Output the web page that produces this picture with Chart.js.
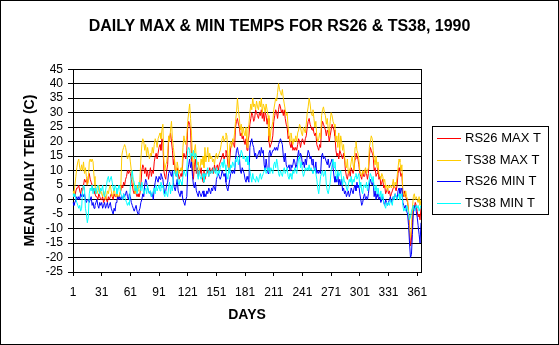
<!DOCTYPE html>
<html>
<head>
<meta charset="utf-8">
<script src="https://cdn.jsdelivr.net/npm/chart.js@4.4.0/dist/chart.umd.min.js"></script>
<style>
  html, body { margin: 0; padding: 0; background: #fff; }
  canvas { display: block; }
</style>
</head>
<body>
<canvas id="chartTemps" width="559" height="345"></canvas>
<script>
const chartTemps = document.getElementById("chartTemps");
const chartTemps2D = chartTemps.getContext("2d");

const TITLE = "DAILY MAX & MIN TEMPS FOR RS26 & TS38, 1990";
const seriesNames = ["RS26 MAX T", "TS38 MAX T", "RS26 MIN T", "TS38 MIN T"];

// days of the year (category axis), and which of them get a label
const days = Array.from({ length: 365 }, (_, i) => i + 1);
const dayTicks = [1, 31, 61, 91, 121, 151, 181, 211, 241, 271, 301, 331, 361];
const tempTicks = [-25, -20, -15, -10, -5, 0, 5, 10, 15, 20, 25, 30, 35, 40, 45];

// values, one row = 30 days
const rs26Max = [
  1, 2, 1, 3, 4, 4, 5, 3, 2, 4, 3, 5, 7, 6, 7, 5, 8, 9, 7, 6, 5, 3, 4, 2, 1, 1, 0, 2, 1, 0,
  0, 1, -1, 0, 1, 0, -1, 1, 0, 1, 2, 1, 0, 2, 1, 1, 2, 0, 1, 2, 3, 5, 4, 6, 5, 7, 8, 10, 9, 10,
  9, 7, 5, 3, 2, 4, 2, 1, 2, 1, 2, 5, 10, 12, 11, 9, 11, 8, 10, 7, 9, 11, 8, 10, 9, 13, 15, 16, 14, 16,
  18, 19, 17, 21, 20, 10, 8, 7, 10, 12, 20, 21, 23, 20, 17, 12, 14, 9, 8, 11, 9, 7, 8, 9, 8, 14, 16, 15, 14, 17,
  25, 27, 26, 24, 14, 10, 7, 12, 14, 9, 11, 8, 10, 9, 11, 8, 6, 10, 7, 9, 9, 10, 8, 11, 9, 10, 11, 9, 12, 10,
  11, 12, 10, 12, 13, 14, 15, 16, 14, 15, 17, 16, 12, 10, 14, 18, 19, 20, 19, 18, 25, 27, 28, 26, 25, 22, 23, 21, 22, 20,
  19, 21, 17, 20, 22, 26, 28, 30, 29, 27, 28, 31, 30, 29, 28, 30, 29, 31, 28, 30, 27, 30, 29, 26, 28, 20, 18, 19, 20, 22,
  27, 29, 31, 30, 28, 31, 33, 32, 30, 31, 29, 31, 28, 26, 25, 21, 22, 19, 18, 20, 17, 18, 17, 18, 17, 19, 21, 20, 18, 20,
  21, 20, 19, 21, 22, 25, 27, 28, 26, 25, 24, 25, 23, 22, 23, 19, 18, 17, 19, 18, 25, 27, 26, 25, 24, 22, 24, 23, 20, 22,
  24, 26, 25, 24, 22, 17, 15, 16, 14, 17, 16, 15, 14, 16, 14, 10, 8, 7, 9, 10, 8, 11, 10, 9, 11, 14, 16, 15, 14, 12,
  9, 8, 7, 10, 8, 8, 10, 9, 7, 9, 15, 18, 17, 16, 15, 10, 11, 8, 9, 11, 7, 8, 5, 6, 7, 4, 5, 2, 3, 4,
  2, 3, 1, 2, 3, 4, 5, 4, 3, 5, 9, 11, 10, 8, 9, 2, 1, 3, 1, 0, -1, -4, -10, -16, -14, -8, -2, -3, -1, -2,
  -4, -6, -5, -7, -3,
];

const ts38Max = [
  3, 2, 5, 8, 11, 13, 14, 11, 10, 12, 10, 13, 9, 11, 8, 5, 6, 13, 14, 13, 14, 13, 8, 5, 3, 2, 3, 5, 2, 3,
  2, 1, 3, 2, 0, 1, 3, 2, 4, 5, 3, 1, 2, 4, 2, 1, 2, 1, 1, 2, 4, 15, 17, 18, 19, 18, 16, 14, 15, 16,
  13, 10, 8, 6, 4, 2, 3, 5, 3, 4, 7, 14, 19, 21, 20, 17, 19, 15, 18, 16, 14, 16, 15, 18, 16, 19, 21, 20, 18, 21,
  22, 23, 21, 24, 26, 14, 10, 12, 13, 16, 22, 20, 24, 27, 21, 18, 15, 10, 9, 13, 11, 9, 10, 11, 10, 18, 22, 20, 19, 22,
  27, 30, 33, 28, 22, 14, 10, 17, 19, 14, 12, 13, 10, 11, 14, 12, 15, 11, 18, 13, 15, 18, 13, 16, 14, 15, 13, 14, 12, 15,
  16, 14, 15, 16, 17, 19, 21, 22, 20, 21, 23, 22, 15, 11, 19, 20, 18, 21, 20, 23, 27, 30, 35, 31, 28, 24, 26, 22, 25, 23,
  22, 25, 18, 24, 26, 30, 33, 31, 35, 32, 33, 31, 34, 32, 31, 34, 32, 35, 30, 33, 32, 30, 33, 31, 29, 22, 20, 24, 25, 27,
  31, 33, 35, 34, 37, 40, 38, 37, 36, 38, 35, 33, 31, 29, 30, 25, 22, 20, 23, 21, 19, 21, 20, 22, 20, 23, 24, 26, 25, 23,
  22, 25, 24, 23, 26, 30, 32, 35, 33, 30, 29, 31, 28, 25, 27, 22, 20, 21, 23, 21, 29, 31, 32, 30, 29, 26, 28, 24, 22, 27,
  30, 29, 27, 26, 25, 20, 22, 18, 23, 17, 22, 20, 17, 19, 15, 12, 11, 14, 9, 10, 11, 13, 15, 12, 10, 18, 20, 17, 16, 14,
  10, 9, 8, 10, 9, 10, 11, 9, 10, 11, 18, 20, 22, 21, 17, 14, 12, 15, 11, 13, 9, 8, 7, 9, 8, 6, 7, 4, 5, 3,
  5, 4, 5, 4, 5, 7, 4, 6, 5, 8, 11, 14, 13, 10, 12, 3, 2, 1, 3, 1, 0, -5, -11, -13, -9, -3, 1, 2, 0, 1,
  0, -1, 1, -2, 0,
];

const rs26Min = [
  -1, -2, -1, 0, 1, 0, 1, 0, 2, 1, 2, 1, 2, 0, -1, 0, 0, -1, 0, 1, -2, -1, -3, -2, -1, 0, -2, -3, -1, -2,
  -1, -3, -2, -1, -3, -2, -1, -3, -2, -1, -3, -4, -5, -3, -4, -1, 0, 1, 0, 1, 0, 1, 0, 2, 1, 2, 3, 1, 0, 2,
  1, -1, -2, -3, -4, -3, -2, -4, -5, -4, -3, -1, 0, 2, 1, 5, 7, 6, 4, 3, 2, 3, 1, 2, 0, 4, 6, 8, 7, 6,
  8, 7, 9, 8, 7, 4, 2, 3, 5, 6, 9, 10, 9, 8, 10, 6, 4, 3, 5, 7, 3, 2, 1, 3, 2, 0, -1, -2, 0, 1,
  10, 12, 14, 11, 13, 8, 5, 4, 6, 3, 2, 1, 3, 2, 1, 2, 3, 1, 2, 1, 3, 2, 4, 3, 2, 4, 3, 5, 4, 3,
  7, 8, 9, 8, 7, 8, 10, 9, 8, 9, 6, 4, 3, 5, 7, 9, 10, 9, 10, 9, 14, 17, 18, 16, 15, 10, 9, 11, 10, 9,
  7, 6, 8, 7, 6, 18, 20, 21, 19, 18, 15, 16, 14, 15, 16, 17, 15, 18, 16, 17, 12, 10, 14, 11, 9, 16, 17, 15, 16, 17,
  17, 18, 17, 18, 17, 19, 20, 21, 20, 19, 15, 13, 16, 12, 11, 11, 12, 10, 12, 11, 12, 14, 13, 11, 12, 15, 17, 14, 16, 15,
  12, 13, 11, 14, 12, 15, 17, 16, 14, 15, 12, 14, 11, 10, 13, 9, 10, 9, 10, 9, 15, 16, 14, 15, 14, 13, 12, 14, 11, 12,
  13, 14, 11, 8, 6, 8, 6, 9, 5, 7, 5, 7, 3, 4, 2, 3, 1, 2, 3, 1, 2, 4, 3, 2, 4, 5, 3, 6, 4, 5,
  2, 0, -2, -1, 1, 2, 0, 1, 0, 2, 5, 7, 6, 5, 6, 1, 3, 0, 2, 1, 0, 1, -1, 0, 1, -1, -2, 0, -1, -2,
  -1, 0, 1, -1, 0, 1, 0, 2, 1, 0, 3, 4, 2, 3, 4, -1, -2, -3, -2, -4, -5, -9, -15, -20, -19, -12, -4, -3, -2, -4,
  -6, -9, -12, -15, -8,
];

const ts38Min = [
  2, 1, 2, 0, -1, -2, -3, -2, -4, -3, 3, 5, 4, -3, -5, -8, -6, 2, 4, 3, 5, 2, 4, 3, 2, 4, 5, 3, 2, 4,
  3, 5, 2, 1, 3, 5, 7, 8, 6, 7, 8, 6, 4, 3, 5, 4, 2, 3, 5, 4, 2, 1, 0, 2, 1, 0, -1, -2, -1, -2,
  5, 8, 10, 7, 6, 3, 5, 2, 4, 6, 5, 3, 6, 4, 2, 3, 4, 2, 5, 3, 2, 3, 1, 2, 3, 4, 2, 5, 3, 4,
  5, 3, 6, 4, 5, 2, 1, 3, 2, 1, 4, 6, 2, 5, 3, 8, 10, 9, 8, 10, 6, 5, 7, 6, 5, 8, 10, 9, 8, 10,
  17, 18, 17, 14, 16, 15, 17, 14, 16, 15, 9, 7, 10, 8, 7, 8, 9, 6, 9, 8, 10, 11, 8, 10, 9, 10, 9, 11, 10, 9,
  11, 8, 10, 9, 11, 12, 13, 11, 14, 12, 10, 8, 7, 11, 9, 12, 11, 13, 12, 11, 14, 13, 15, 12, 14, 15, 17, 16, 14, 15,
  14, 13, 15, 12, 13, 10, 8, 6, 9, 7, 7, 6, 8, 7, 6, 8, 9, 7, 8, 9, 10, 11, 9, 10, 11, 10, 9, 11, 10, 9,
  12, 13, 11, 14, 12, 9, 8, 10, 9, 8, 10, 11, 9, 10, 11, 8, 7, 9, 8, 7, 10, 9, 11, 10, 9, 12, 14, 15, 11, 13,
  10, 8, 9, 11, 10, 11, 10, 12, 10, 11, 10, 9, 10, 11, 9, 7, 4, 2, 5, 8, 9, 10, 8, 9, 10, 5, 3, 2, 4, 6,
  10, 12, 14, 11, 13, 9, 7, 10, 8, 9, 10, 7, 5, 8, 6, 6, 4, 3, 5, 7, 6, 8, 5, 7, 6, 8, 9, 7, 8, 9,
  4, 6, 3, 2, 5, 5, 4, 6, 3, 5, 7, 9, 8, 6, 8, 4, 3, 5, 2, 4, 2, 1, 3, 0, 2, -1, -2, -3, -1, -2,
  -1, -2, 0, -1, -2, 1, 0, 2, 1, 0, 1, 2, 0, 1, 2, -2, -4, -3, -4, -2, -3, -5, -7, -6, -4, -3, -2, -4, -3, -2,
  -3, -2, -4, -3, -2,
];

const CHART_COLORS = {
  red: "rgb(255, 0, 0)",
  gold: "rgb(255, 204, 0)",
  blue: "rgb(0, 0, 255)",
  cyan: "rgb(0, 255, 255)",
};

const FONT = 'Arial, "Liberation Sans", sans-serif';
Chart.defaults.font.family = FONT;
Chart.defaults.color = "#000";

// white page, outer frame, right edge of plot, legend box
const framePlugin = {
  id: "frame",
  beforeDraw: (chart) => {
    const c = chart.ctx;
    c.save();
    c.fillStyle = "#fff";
    c.fillRect(0, 0, chart.width, chart.height);
    c.restore();
  },
  afterDraw: (chart) => {
    const c = chart.ctx;
    const a = chart.chartArea;
    c.save();
    c.strokeStyle = "#000";
    c.lineWidth = 1;
    c.strokeRect(0.5, 0.5, chart.width - 1, chart.height - 1);
    c.beginPath();
    c.moveTo(Math.round(a.right) + 0.5, Math.round(a.top));
    c.lineTo(Math.round(a.right) + 0.5, Math.round(a.bottom) + 1);
    c.stroke();

    // legend
    c.strokeRect(432.5, 126.5, 116, 88);
    c.font = "13px " + FONT;
    c.textBaseline = "middle";
    c.fillStyle = "#000";
    chart.data.datasets.forEach((ds, i) => {
      const y = Math.round(138 + i * 21.7) + 0.5;
      c.strokeStyle = ds.borderColor;
      c.lineWidth = 1;
      c.beginPath();
      c.moveTo(437, y);
      c.lineTo(461, y);
      c.stroke();
      c.fillText(ds.label, 465, y);
    });
    c.restore();
  },
};

const chart_data = {
  labels: days,
  datasets: [
    { label: seriesNames[0], data: rs26Max, borderColor: CHART_COLORS.red, order: 4 },
    { label: seriesNames[1], data: ts38Max, borderColor: CHART_COLORS.gold, order: 3 },
    { label: seriesNames[2], data: rs26Min, borderColor: CHART_COLORS.blue, order: 2 },
    { label: seriesNames[3], data: ts38Min, borderColor: CHART_COLORS.cyan, order: 1 },
  ],
};

const config = {
  type: "line",
  data: chart_data,
  options: {
    responsive: false,
    animation: false,
    events: [],
    layout: { padding: 0 },
    elements: {
      point: { radius: 0 },
      line: { borderWidth: 1, tension: 0, fill: false },
    },
    plugins: {
      legend: { display: false },
      tooltip: { enabled: false },
      title: {
        display: true,
        text: TITLE,
        color: "#000",
        font: { size: 16, weight: "bold" },
        padding: { top: 17, bottom: 33 },
      },
    },
    scales: {
      x: {
        type: "category",
        grid: {
          drawOnChartArea: false,
          tickLength: 4,
          color: (ctx) => (dayTicks.includes(days[ctx.index]) ? "#000" : "rgba(0,0,0,0)"),
        },
        border: { color: "#000" },
        ticks: {
          autoSkip: false,
          maxRotation: 0,
          padding: 9,
          font: { size: 12 },
          callback: (v, i) => (dayTicks.includes(days[i]) ? String(days[i]) : ""),
        },
        title: {
          display: true,
          text: "DAYS",
          font: { size: 14, weight: "bold" },
          padding: { top: 0, bottom: 21 },
        },
        afterFit: (scale) => {
          scale.height = 73;
        },
      },
      y: {
        min: tempTicks[0],
        max: tempTicks[tempTicks.length - 1],
        grid: { color: "#000", tickLength: 5 },
        border: { color: "#000" },
        ticks: { stepSize: 5, autoSkip: false, padding: 5, font: { size: 12 } },
        title: {
          display: true,
          text: "MEAN DAILY TEMP (C)",
          font: { size: 14, weight: "bold" },
          padding: { top: 22, bottom: 0 },
        },
        afterFit: (scale) => {
          scale.width = 73;
        },
      },
      // empty space on the right that holds the legend box
      legendSpace: {
        axis: "y",
        position: "right",
        grid: { display: false },
        border: { display: false },
        ticks: { display: false },
        afterFit: (scale) => {
          scale.width = 138;
        },
      },
    },
  },
  plugins: [framePlugin],
};

const new_chart = new Chart(chartTemps2D, config);
</script>
</body>
</html>
